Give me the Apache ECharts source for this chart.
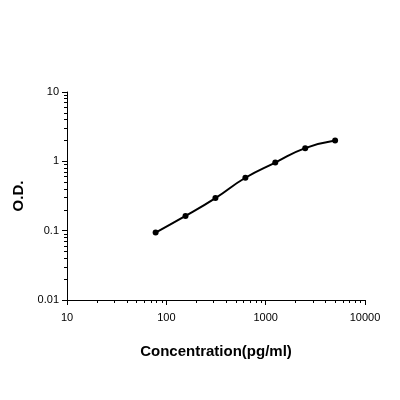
<!DOCTYPE html>
<html><head><meta charset="utf-8">
<script src="https://cdn.jsdelivr.net/npm/echarts@6/dist/echarts.min.js"></script>
<style>html,body{margin:0;padding:0;background:#fff}#c{width:400px;height:400px}</style>
</head><body><div id="c"></div>
<script>
const concentrations = [78, 156, 312, 625, 1250, 2500, 5000];
const odValues = [0.094, 0.163, 0.295, 0.58, 0.96, 1.55, 2.0];
const xTickLabels = ['10', '100', '1000', '10000'];
const yTickLabels = ['0.01', '0.1', '1', '10'];

const chart = echarts.init(document.getElementById('c'));
const axisCommon = {
  type: 'log', logBase: 10,
  axisLine: {show: true, lineStyle: {color: '#000', width: 1}},
  axisTick: {show: true, inside: false, length: 5, lineStyle: {color: '#000'}},
  minorTick: {show: true, splitNumber: 9, length: 3, lineStyle: {color: '#000'}},
  splitLine: {show: false},
  axisLabel: {color: '#000', fontFamily: 'Arial, Liberation Sans', fontSize: 11},
  nameTextStyle: {color: '#000', fontFamily: 'Arial, Liberation Sans', fontSize: 15, fontWeight: 'bold'}
};
chart.setOption({
  animation: false,
  grid: {left: 67, right: 35, top: 92, bottom: 100},
  xAxis: Object.assign({}, axisCommon, {
    min: 10, max: 10000, name: 'Concentration(pg/ml)', nameLocation: 'middle', nameGap: 44,
    axisLabel: Object.assign({}, axisCommon.axisLabel, {margin: 12, formatter: v => xTickLabels.includes(String(Math.round(v))) ? String(Math.round(v)) : ''})
  }),
  yAxis: Object.assign({}, axisCommon, {
    min: 0.01, max: 10, name: 'O.D.', nameLocation: 'middle', nameGap: 30,
    axisLabel: Object.assign({}, axisCommon.axisLabel, {formatter: v => { const s = String(+v.toPrecision(3)); return yTickLabels.includes(s) ? s : ''; }})
  }),
  series: [{
    type: 'line', smooth: 0.5,
    data: concentrations.map((c, i) => [c, odValues[i]]),
    symbol: 'circle', symbolSize: 6,
    itemStyle: {color: '#000'},
    lineStyle: {color: '#000', width: 2}
  }]
});
</script></body></html>
